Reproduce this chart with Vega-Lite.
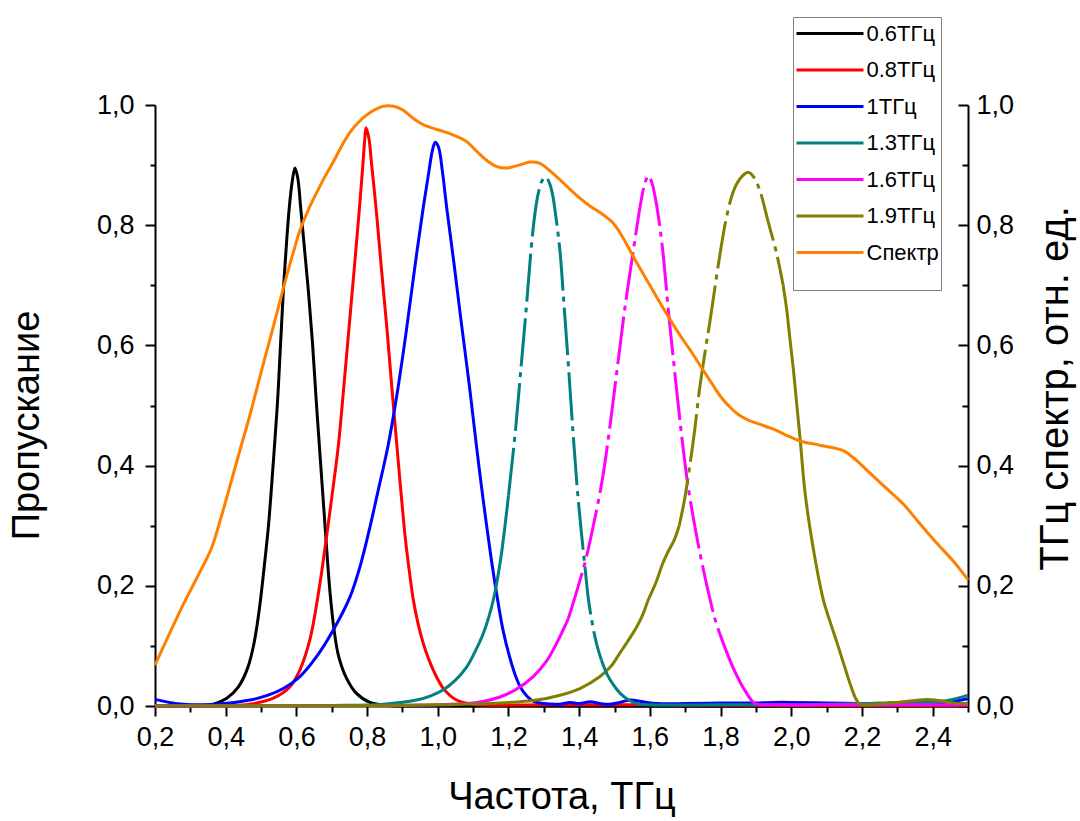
{
  "$schema": "https://vega.github.io/schema/vega-lite/v6.json",
  "width": 813,
  "height": 601,
  "autosize": "none",
  "padding": {"left": 155, "top": 105, "right": 112, "bottom": 115},
  "background": "white",
  "config": {
    "view": {"stroke": null},
    "font": "Liberation Sans",
    "axis": {
      "grid": false,
      "domainColor": "black",
      "domainWidth": 2,
      "tickColor": "black",
      "tickWidth": 2,
      "labelColor": "black",
      "labelFont": "Liberation Sans",
      "labelFontSize": 27,
      "labelOverlap": false,
      "labelFlush": false,
      "titleColor": "black",
      "titleFont": "Liberation Sans",
      "titleFontSize": 38,
      "titleFontWeight": "normal"
    },
    "line": {"strokeWidth": 3, "interpolate": "catmull-rom", "clip": true}
  },
  "datasets": {
    "transmission": [
      {"series": "0.6ТГц", "freq": 0.2, "value": 0},
      {"series": "0.6ТГц", "freq": 0.3, "value": 0},
      {"series": "0.6ТГц", "freq": 0.365, "value": 0.003},
      {"series": "0.6ТГц", "freq": 0.403, "value": 0.013},
      {"series": "0.6ТГц", "freq": 0.436, "value": 0.032},
      {"series": "0.6ТГц", "freq": 0.462, "value": 0.063},
      {"series": "0.6ТГц", "freq": 0.48, "value": 0.104},
      {"series": "0.6ТГц", "freq": 0.496, "value": 0.165},
      {"series": "0.6ТГц", "freq": 0.509, "value": 0.232},
      {"series": "0.6ТГц", "freq": 0.521, "value": 0.3},
      {"series": "0.6ТГц", "freq": 0.534, "value": 0.4},
      {"series": "0.6ТГц", "freq": 0.546, "value": 0.5},
      {"series": "0.6ТГц", "freq": 0.555, "value": 0.6},
      {"series": "0.6ТГц", "freq": 0.563, "value": 0.69},
      {"series": "0.6ТГц", "freq": 0.572, "value": 0.77},
      {"series": "0.6ТГц", "freq": 0.58, "value": 0.83},
      {"series": "0.6ТГц", "freq": 0.588, "value": 0.872},
      {"series": "0.6ТГц", "freq": 0.596, "value": 0.895},
      {"series": "0.6ТГц", "freq": 0.604, "value": 0.878},
      {"series": "0.6ТГц", "freq": 0.612, "value": 0.83},
      {"series": "0.6ТГц", "freq": 0.623, "value": 0.76},
      {"series": "0.6ТГц", "freq": 0.634, "value": 0.69},
      {"series": "0.6ТГц", "freq": 0.646, "value": 0.6},
      {"series": "0.6ТГц", "freq": 0.657, "value": 0.5},
      {"series": "0.6ТГц", "freq": 0.669, "value": 0.4},
      {"series": "0.6ТГц", "freq": 0.681, "value": 0.3},
      {"series": "0.6ТГц", "freq": 0.695, "value": 0.19},
      {"series": "0.6ТГц", "freq": 0.707, "value": 0.125},
      {"series": "0.6ТГц", "freq": 0.719, "value": 0.084},
      {"series": "0.6ТГц", "freq": 0.742, "value": 0.046},
      {"series": "0.6ТГц", "freq": 0.77, "value": 0.021},
      {"series": "0.6ТГц", "freq": 0.808, "value": 0.006},
      {"series": "0.6ТГц", "freq": 0.86, "value": 0.001},
      {"series": "0.6ТГц", "freq": 1.0, "value": 0},
      {"series": "0.6ТГц", "freq": 2.5, "value": 0},

      {"series": "0.8ТГц", "freq": 0.2, "value": 0},
      {"series": "0.8ТГц", "freq": 0.4, "value": 0.001},
      {"series": "0.8ТГц", "freq": 0.469, "value": 0.003},
      {"series": "0.8ТГц", "freq": 0.535, "value": 0.013},
      {"series": "0.8ТГц", "freq": 0.582, "value": 0.032},
      {"series": "0.8ТГц", "freq": 0.61, "value": 0.06},
      {"series": "0.8ТГц", "freq": 0.638, "value": 0.11},
      {"series": "0.8ТГц", "freq": 0.658, "value": 0.172},
      {"series": "0.8ТГц", "freq": 0.672, "value": 0.225},
      {"series": "0.8ТГц", "freq": 0.686, "value": 0.285},
      {"series": "0.8ТГц", "freq": 0.703, "value": 0.36},
      {"series": "0.8ТГц", "freq": 0.719, "value": 0.435},
      {"series": "0.8ТГц", "freq": 0.734, "value": 0.53},
      {"series": "0.8ТГц", "freq": 0.749, "value": 0.63},
      {"series": "0.8ТГц", "freq": 0.764, "value": 0.73},
      {"series": "0.8ТГц", "freq": 0.778, "value": 0.826},
      {"series": "0.8ТГц", "freq": 0.788, "value": 0.9},
      {"series": "0.8ТГц", "freq": 0.793, "value": 0.94},
      {"series": "0.8ТГц", "freq": 0.797, "value": 0.962},
      {"series": "0.8ТГц", "freq": 0.805, "value": 0.945},
      {"series": "0.8ТГц", "freq": 0.813, "value": 0.9},
      {"series": "0.8ТГц", "freq": 0.82, "value": 0.86},
      {"series": "0.8ТГц", "freq": 0.827, "value": 0.818},
      {"series": "0.8ТГц", "freq": 0.841, "value": 0.725},
      {"series": "0.8ТГц", "freq": 0.856, "value": 0.629},
      {"series": "0.8ТГц", "freq": 0.87, "value": 0.53},
      {"series": "0.8ТГц", "freq": 0.884, "value": 0.435},
      {"series": "0.8ТГц", "freq": 0.896, "value": 0.355},
      {"series": "0.8ТГц", "freq": 0.908, "value": 0.28},
      {"series": "0.8ТГц", "freq": 0.92, "value": 0.222},
      {"series": "0.8ТГц", "freq": 0.931, "value": 0.176},
      {"series": "0.8ТГц", "freq": 0.945, "value": 0.135},
      {"series": "0.8ТГц", "freq": 0.959, "value": 0.104},
      {"series": "0.8ТГц", "freq": 0.973, "value": 0.08},
      {"series": "0.8ТГц", "freq": 0.987, "value": 0.06},
      {"series": "0.8ТГц", "freq": 1.016, "value": 0.029},
      {"series": "0.8ТГц", "freq": 1.053, "value": 0.01},
      {"series": "0.8ТГц", "freq": 1.1, "value": 0.003},
      {"series": "0.8ТГц", "freq": 1.3, "value": 0.002},
      {"series": "0.8ТГц", "freq": 1.6, "value": 0.002},
      {"series": "0.8ТГц", "freq": 2.0, "value": 0.001},
      {"series": "0.8ТГц", "freq": 2.5, "value": 0.001},

      {"series": "1ТГц", "freq": 0.2, "value": 0.011},
      {"series": "1ТГц", "freq": 0.24, "value": 0.006},
      {"series": "1ТГц", "freq": 0.28, "value": 0.003},
      {"series": "1ТГц", "freq": 0.375, "value": 0.003},
      {"series": "1ТГц", "freq": 0.469, "value": 0.01},
      {"series": "1ТГц", "freq": 0.52, "value": 0.018},
      {"series": "1ТГц", "freq": 0.563, "value": 0.029},
      {"series": "1ТГц", "freq": 0.61, "value": 0.049},
      {"series": "1ТГц", "freq": 0.657, "value": 0.082},
      {"series": "1ТГц", "freq": 0.704, "value": 0.126},
      {"series": "1ТГц", "freq": 0.752, "value": 0.182},
      {"series": "1ТГц", "freq": 0.78, "value": 0.232},
      {"series": "1ТГц", "freq": 0.805, "value": 0.29},
      {"series": "1ТГц", "freq": 0.83, "value": 0.355},
      {"series": "1ТГц", "freq": 0.86, "value": 0.435},
      {"series": "1ТГц", "freq": 0.885, "value": 0.52},
      {"series": "1ТГц", "freq": 0.91, "value": 0.62},
      {"series": "1ТГц", "freq": 0.935, "value": 0.73},
      {"series": "1ТГц", "freq": 0.959, "value": 0.83},
      {"series": "1ТГц", "freq": 0.975, "value": 0.89},
      {"series": "1ТГц", "freq": 0.985, "value": 0.925},
      {"series": "1ТГц", "freq": 0.993, "value": 0.938},
      {"series": "1ТГц", "freq": 1.002, "value": 0.93},
      {"series": "1ТГц", "freq": 1.013, "value": 0.89},
      {"series": "1ТГц", "freq": 1.025, "value": 0.83},
      {"series": "1ТГц", "freq": 1.045, "value": 0.74},
      {"series": "1ТГц", "freq": 1.065, "value": 0.645},
      {"series": "1ТГц", "freq": 1.09, "value": 0.53},
      {"series": "1ТГц", "freq": 1.11, "value": 0.43},
      {"series": "1ТГц", "freq": 1.128, "value": 0.345},
      {"series": "1ТГц", "freq": 1.15, "value": 0.25},
      {"series": "1ТГц", "freq": 1.167, "value": 0.185},
      {"series": "1ТГц", "freq": 1.185, "value": 0.125},
      {"series": "1ТГц", "freq": 1.204, "value": 0.08},
      {"series": "1ТГц", "freq": 1.22, "value": 0.05},
      {"series": "1ТГц", "freq": 1.233, "value": 0.032},
      {"series": "1ТГц", "freq": 1.25, "value": 0.018},
      {"series": "1ТГц", "freq": 1.27, "value": 0.008},
      {"series": "1ТГц", "freq": 1.3, "value": 0.004},
      {"series": "1ТГц", "freq": 1.346, "value": 0.003},
      {"series": "1ТГц", "freq": 1.374, "value": 0.006},
      {"series": "1ТГц", "freq": 1.4, "value": 0.004},
      {"series": "1ТГц", "freq": 1.431, "value": 0.007},
      {"series": "1ТГц", "freq": 1.46, "value": 0.004},
      {"series": "1ТГц", "freq": 1.487, "value": 0.003},
      {"series": "1ТГц", "freq": 1.515, "value": 0.006},
      {"series": "1ТГц", "freq": 1.544, "value": 0.01},
      {"series": "1ТГц", "freq": 1.58, "value": 0.007},
      {"series": "1ТГц", "freq": 1.62, "value": 0.004},
      {"series": "1ТГц", "freq": 1.7, "value": 0.004},
      {"series": "1ТГц", "freq": 1.8, "value": 0.005},
      {"series": "1ТГц", "freq": 1.9, "value": 0.005},
      {"series": "1ТГц", "freq": 1.95, "value": 0.006},
      {"series": "1ТГц", "freq": 2.0, "value": 0.006},
      {"series": "1ТГц", "freq": 2.1, "value": 0.005},
      {"series": "1ТГц", "freq": 2.2, "value": 0.004},
      {"series": "1ТГц", "freq": 2.3, "value": 0.004},
      {"series": "1ТГц", "freq": 2.4, "value": 0.005},
      {"series": "1ТГц", "freq": 2.45, "value": 0.007},
      {"series": "1ТГц", "freq": 2.5, "value": 0.012},

      {"series": "1.3ТГц", "freq": 0.2, "value": 0},
      {"series": "1.3ТГц", "freq": 0.7, "value": 0.001},
      {"series": "1.3ТГц", "freq": 0.846, "value": 0.003},
      {"series": "1.3ТГц", "freq": 0.94, "value": 0.01},
      {"series": "1.3ТГц", "freq": 0.98, "value": 0.017},
      {"series": "1.3ТГц", "freq": 1.016, "value": 0.027},
      {"series": "1.3ТГц", "freq": 1.05, "value": 0.043},
      {"series": "1.3ТГц", "freq": 1.082, "value": 0.065},
      {"series": "1.3ТГц", "freq": 1.105, "value": 0.09},
      {"series": "1.3ТГц", "freq": 1.129, "value": 0.121},
      {"series": "1.3ТГц", "freq": 1.157, "value": 0.176},
      {"series": "1.3ТГц", "freq": 1.178, "value": 0.245},
      {"series": "1.3ТГц", "freq": 1.2, "value": 0.35},
      {"series": "1.3ТГц", "freq": 1.22, "value": 0.46},
      {"series": "1.3ТГц", "freq": 1.235, "value": 0.56},
      {"series": "1.3ТГц", "freq": 1.25, "value": 0.66},
      {"series": "1.3ТГц", "freq": 1.264, "value": 0.76},
      {"series": "1.3ТГц", "freq": 1.275, "value": 0.82},
      {"series": "1.3ТГц", "freq": 1.285, "value": 0.855},
      {"series": "1.3ТГц", "freq": 1.296, "value": 0.875},
      {"series": "1.3ТГц", "freq": 1.306, "value": 0.88},
      {"series": "1.3ТГц", "freq": 1.316, "value": 0.87},
      {"series": "1.3ТГц", "freq": 1.325, "value": 0.85},
      {"series": "1.3ТГц", "freq": 1.335, "value": 0.81},
      {"series": "1.3ТГц", "freq": 1.346, "value": 0.755},
      {"series": "1.3ТГц", "freq": 1.358, "value": 0.66},
      {"series": "1.3ТГц", "freq": 1.37, "value": 0.563},
      {"series": "1.3ТГц", "freq": 1.382, "value": 0.46},
      {"series": "1.3ТГц", "freq": 1.394, "value": 0.366},
      {"series": "1.3ТГц", "freq": 1.406, "value": 0.29},
      {"series": "1.3ТГц", "freq": 1.417, "value": 0.228},
      {"series": "1.3ТГц", "freq": 1.426, "value": 0.178},
      {"series": "1.3ТГц", "freq": 1.437, "value": 0.138},
      {"series": "1.3ТГц", "freq": 1.449, "value": 0.104},
      {"series": "1.3ТГц", "freq": 1.463, "value": 0.076},
      {"series": "1.3ТГц", "freq": 1.478, "value": 0.054},
      {"series": "1.3ТГц", "freq": 1.497, "value": 0.035},
      {"series": "1.3ТГц", "freq": 1.516, "value": 0.021},
      {"series": "1.3ТГц", "freq": 1.54, "value": 0.01},
      {"series": "1.3ТГц", "freq": 1.563, "value": 0.004},
      {"series": "1.3ТГц", "freq": 1.6, "value": 0.002},
      {"series": "1.3ТГц", "freq": 1.8, "value": 0.002},
      {"series": "1.3ТГц", "freq": 2.0, "value": 0.002},
      {"series": "1.3ТГц", "freq": 2.2, "value": 0.004},
      {"series": "1.3ТГц", "freq": 2.3, "value": 0.006},
      {"series": "1.3ТГц", "freq": 2.4, "value": 0.006},
      {"series": "1.3ТГц", "freq": 2.45, "value": 0.01},
      {"series": "1.3ТГц", "freq": 2.5, "value": 0.018},

      {"series": "1.6ТГц", "freq": 0.2, "value": 0},
      {"series": "1.6ТГц", "freq": 0.9, "value": 0.001},
      {"series": "1.6ТГц", "freq": 1.0, "value": 0.002},
      {"series": "1.6ТГц", "freq": 1.082, "value": 0.004},
      {"series": "1.6ТГц", "freq": 1.13, "value": 0.008},
      {"series": "1.6ТГц", "freq": 1.176, "value": 0.015},
      {"series": "1.6ТГц", "freq": 1.22, "value": 0.027},
      {"series": "1.6ТГц", "freq": 1.27, "value": 0.049},
      {"series": "1.6ТГц", "freq": 1.308, "value": 0.075},
      {"series": "1.6ТГц", "freq": 1.336, "value": 0.104},
      {"series": "1.6ТГц", "freq": 1.369, "value": 0.145},
      {"series": "1.6ТГц", "freq": 1.39, "value": 0.185},
      {"series": "1.6ТГц", "freq": 1.417, "value": 0.24},
      {"series": "1.6ТГц", "freq": 1.44, "value": 0.3},
      {"series": "1.6ТГц", "freq": 1.465, "value": 0.375},
      {"series": "1.6ТГц", "freq": 1.487, "value": 0.465},
      {"series": "1.6ТГц", "freq": 1.508, "value": 0.563},
      {"series": "1.6ТГц", "freq": 1.53, "value": 0.665},
      {"series": "1.6ТГц", "freq": 1.555, "value": 0.765},
      {"series": "1.6ТГц", "freq": 1.575, "value": 0.84},
      {"series": "1.6ТГц", "freq": 1.587, "value": 0.872},
      {"series": "1.6ТГц", "freq": 1.596, "value": 0.882},
      {"series": "1.6ТГц", "freq": 1.606, "value": 0.87},
      {"series": "1.6ТГц", "freq": 1.62, "value": 0.83},
      {"series": "1.6ТГц", "freq": 1.636, "value": 0.76},
      {"series": "1.6ТГц", "freq": 1.652, "value": 0.66},
      {"series": "1.6ТГц", "freq": 1.669, "value": 0.563},
      {"series": "1.6ТГц", "freq": 1.688, "value": 0.46},
      {"series": "1.6ТГц", "freq": 1.707, "value": 0.37},
      {"series": "1.6ТГц", "freq": 1.73, "value": 0.29},
      {"series": "1.6ТГц", "freq": 1.752, "value": 0.225},
      {"series": "1.6ТГц", "freq": 1.77, "value": 0.178},
      {"series": "1.6ТГц", "freq": 1.784, "value": 0.145},
      {"series": "1.6ТГц", "freq": 1.798, "value": 0.12},
      {"series": "1.6ТГц", "freq": 1.817, "value": 0.09},
      {"series": "1.6ТГц", "freq": 1.836, "value": 0.063},
      {"series": "1.6ТГц", "freq": 1.855, "value": 0.04},
      {"series": "1.6ТГц", "freq": 1.874, "value": 0.021},
      {"series": "1.6ТГц", "freq": 1.89, "value": 0.008},
      {"series": "1.6ТГц", "freq": 1.902, "value": 0.003},
      {"series": "1.6ТГц", "freq": 1.95, "value": 0.002},
      {"series": "1.6ТГц", "freq": 2.2, "value": 0.002},
      {"series": "1.6ТГц", "freq": 2.5, "value": 0.002},

      {"series": "1.9ТГц", "freq": 0.2, "value": 0},
      {"series": "1.9ТГц", "freq": 0.8, "value": 0.001},
      {"series": "1.9ТГц", "freq": 1.0, "value": 0.002},
      {"series": "1.9ТГц", "freq": 1.147, "value": 0.004},
      {"series": "1.9ТГц", "freq": 1.28, "value": 0.01},
      {"series": "1.9ТГц", "freq": 1.346, "value": 0.018},
      {"series": "1.9ТГц", "freq": 1.402, "value": 0.029},
      {"series": "1.9ТГц", "freq": 1.459, "value": 0.049},
      {"series": "1.9ТГц", "freq": 1.49, "value": 0.066},
      {"series": "1.9ТГц", "freq": 1.515, "value": 0.088},
      {"series": "1.9ТГц", "freq": 1.54, "value": 0.11},
      {"series": "1.9ТГц", "freq": 1.563, "value": 0.132},
      {"series": "1.9ТГц", "freq": 1.58, "value": 0.152},
      {"series": "1.9ТГц", "freq": 1.595, "value": 0.176},
      {"series": "1.9ТГц", "freq": 1.617, "value": 0.205},
      {"series": "1.9ТГц", "freq": 1.635, "value": 0.235},
      {"series": "1.9ТГц", "freq": 1.65, "value": 0.255},
      {"series": "1.9ТГц", "freq": 1.668, "value": 0.275},
      {"series": "1.9ТГц", "freq": 1.683, "value": 0.3},
      {"series": "1.9ТГц", "freq": 1.697, "value": 0.34},
      {"series": "1.9ТГц", "freq": 1.713, "value": 0.4},
      {"series": "1.9ТГц", "freq": 1.727, "value": 0.46},
      {"series": "1.9ТГц", "freq": 1.74, "value": 0.525},
      {"series": "1.9ТГц", "freq": 1.755, "value": 0.585},
      {"series": "1.9ТГц", "freq": 1.77, "value": 0.64},
      {"series": "1.9ТГц", "freq": 1.785, "value": 0.7},
      {"series": "1.9ТГц", "freq": 1.8, "value": 0.758},
      {"series": "1.9ТГц", "freq": 1.815, "value": 0.808},
      {"series": "1.9ТГц", "freq": 1.83, "value": 0.845},
      {"series": "1.9ТГц", "freq": 1.845, "value": 0.868},
      {"series": "1.9ТГц", "freq": 1.862, "value": 0.882},
      {"series": "1.9ТГц", "freq": 1.878, "value": 0.888},
      {"series": "1.9ТГц", "freq": 1.894, "value": 0.88},
      {"series": "1.9ТГц", "freq": 1.911, "value": 0.858},
      {"series": "1.9ТГц", "freq": 1.935, "value": 0.805},
      {"series": "1.9ТГц", "freq": 1.959, "value": 0.752},
      {"series": "1.9ТГц", "freq": 1.977, "value": 0.7},
      {"series": "1.9ТГц", "freq": 1.987, "value": 0.66},
      {"series": "1.9ТГц", "freq": 1.996, "value": 0.612},
      {"series": "1.9ТГц", "freq": 2.006, "value": 0.56},
      {"series": "1.9ТГц", "freq": 2.015, "value": 0.505},
      {"series": "1.9ТГц", "freq": 2.025, "value": 0.445},
      {"series": "1.9ТГц", "freq": 2.039, "value": 0.355},
      {"series": "1.9ТГц", "freq": 2.06, "value": 0.27},
      {"series": "1.9ТГц", "freq": 2.091, "value": 0.176},
      {"series": "1.9ТГц", "freq": 2.11, "value": 0.14},
      {"series": "1.9ТГц", "freq": 2.128, "value": 0.108},
      {"series": "1.9ТГц", "freq": 2.143, "value": 0.08},
      {"series": "1.9ТГц", "freq": 2.157, "value": 0.054},
      {"series": "1.9ТГц", "freq": 2.17, "value": 0.031},
      {"series": "1.9ТГц", "freq": 2.182, "value": 0.013},
      {"series": "1.9ТГц", "freq": 2.194, "value": 0.003},
      {"series": "1.9ТГц", "freq": 2.22, "value": 0.002},
      {"series": "1.9ТГц", "freq": 2.26, "value": 0.004},
      {"series": "1.9ТГц", "freq": 2.3, "value": 0.006},
      {"series": "1.9ТГц", "freq": 2.35, "value": 0.009},
      {"series": "1.9ТГц", "freq": 2.383, "value": 0.011},
      {"series": "1.9ТГц", "freq": 2.42, "value": 0.009},
      {"series": "1.9ТГц", "freq": 2.46, "value": 0.005},
      {"series": "1.9ТГц", "freq": 2.5, "value": 0.004}
    ],
    "spectrum": [
      {"series": "Спектр", "freq": 0.2, "value": 0.068},
      {"series": "Спектр", "freq": 0.24, "value": 0.119},
      {"series": "Спектр", "freq": 0.28, "value": 0.169},
      {"series": "Спектр", "freq": 0.32, "value": 0.215},
      {"series": "Спектр", "freq": 0.36, "value": 0.263},
      {"series": "Спектр", "freq": 0.387, "value": 0.314},
      {"series": "Спектр", "freq": 0.412, "value": 0.366},
      {"series": "Спектр", "freq": 0.44, "value": 0.425},
      {"series": "Спектр", "freq": 0.469, "value": 0.485},
      {"series": "Спектр", "freq": 0.492, "value": 0.537},
      {"series": "Спектр", "freq": 0.516, "value": 0.59},
      {"series": "Спектр", "freq": 0.54, "value": 0.643},
      {"series": "Спектр", "freq": 0.563, "value": 0.695},
      {"series": "Спектр", "freq": 0.587, "value": 0.746},
      {"series": "Спектр", "freq": 0.61, "value": 0.791},
      {"series": "Спектр", "freq": 0.634, "value": 0.826},
      {"series": "Спектр", "freq": 0.658, "value": 0.855},
      {"series": "Спектр", "freq": 0.68, "value": 0.88},
      {"series": "Спектр", "freq": 0.705, "value": 0.906},
      {"series": "Спектр", "freq": 0.73, "value": 0.934},
      {"series": "Спектр", "freq": 0.752, "value": 0.955},
      {"series": "Спектр", "freq": 0.775, "value": 0.971},
      {"series": "Спектр", "freq": 0.8, "value": 0.984},
      {"series": "Спектр", "freq": 0.825, "value": 0.993},
      {"series": "Спектр", "freq": 0.846, "value": 0.998},
      {"series": "Спектр", "freq": 0.875, "value": 0.998},
      {"series": "Спектр", "freq": 0.9, "value": 0.992},
      {"series": "Спектр", "freq": 0.93, "value": 0.978},
      {"series": "Спектр", "freq": 0.96, "value": 0.967},
      {"series": "Спектр", "freq": 0.988, "value": 0.961},
      {"series": "Спектр", "freq": 1.015, "value": 0.956},
      {"series": "Спектр", "freq": 1.044, "value": 0.95},
      {"series": "Спектр", "freq": 1.082, "value": 0.939},
      {"series": "Спектр", "freq": 1.11, "value": 0.923},
      {"series": "Спектр", "freq": 1.138, "value": 0.908},
      {"series": "Спектр", "freq": 1.165, "value": 0.898},
      {"series": "Спектр", "freq": 1.195, "value": 0.895},
      {"series": "Спектр", "freq": 1.23, "value": 0.9},
      {"series": "Спектр", "freq": 1.261, "value": 0.905},
      {"series": "Спектр", "freq": 1.289, "value": 0.903},
      {"series": "Спектр", "freq": 1.31, "value": 0.894},
      {"series": "Спектр", "freq": 1.336, "value": 0.881},
      {"series": "Спектр", "freq": 1.37, "value": 0.862},
      {"series": "Спектр", "freq": 1.402, "value": 0.845},
      {"series": "Спектр", "freq": 1.43, "value": 0.832},
      {"series": "Спектр", "freq": 1.459, "value": 0.821},
      {"series": "Спектр", "freq": 1.497, "value": 0.803},
      {"series": "Спектр", "freq": 1.525, "value": 0.778},
      {"series": "Спектр", "freq": 1.553, "value": 0.748},
      {"series": "Спектр", "freq": 1.6, "value": 0.7},
      {"series": "Спектр", "freq": 1.647, "value": 0.653},
      {"series": "Спектр", "freq": 1.685, "value": 0.617},
      {"series": "Спектр", "freq": 1.712, "value": 0.594},
      {"series": "Спектр", "freq": 1.742, "value": 0.567},
      {"series": "Спектр", "freq": 1.775, "value": 0.537},
      {"series": "Спектр", "freq": 1.8, "value": 0.515},
      {"series": "Спектр", "freq": 1.827, "value": 0.497},
      {"series": "Спектр", "freq": 1.85, "value": 0.485},
      {"series": "Спектр", "freq": 1.874, "value": 0.477},
      {"series": "Спектр", "freq": 1.9, "value": 0.471},
      {"series": "Спектр", "freq": 1.948, "value": 0.461},
      {"series": "Спектр", "freq": 1.988, "value": 0.45},
      {"series": "Спектр", "freq": 2.025, "value": 0.441},
      {"series": "Спектр", "freq": 2.081, "value": 0.434},
      {"series": "Спектр", "freq": 2.115, "value": 0.43},
      {"series": "Спектр", "freq": 2.147, "value": 0.425},
      {"series": "Спектр", "freq": 2.18, "value": 0.411},
      {"series": "Спектр", "freq": 2.213, "value": 0.393},
      {"series": "Спектр", "freq": 2.26, "value": 0.367},
      {"series": "Спектр", "freq": 2.317, "value": 0.336},
      {"series": "Спектр", "freq": 2.36, "value": 0.306},
      {"series": "Спектр", "freq": 2.41, "value": 0.272},
      {"series": "Спектр", "freq": 2.46, "value": 0.24},
      {"series": "Спектр", "freq": 2.5, "value": 0.21}
    ]
  },
  "encoding": {
    "x": {
      "field": "freq",
      "type": "quantitative",
      "scale": {"domain": [0.2, 2.5], "nice": false, "zero": false},
      "axis": {
        "title": "Частота, ТГц",
        "values": [0.2, 0.3, 0.4, 0.5, 0.6, 0.7, 0.8, 0.9, 1.0, 1.1, 1.2, 1.3, 1.4, 1.5, 1.6, 1.7, 1.8, 1.9, 2.0, 2.1, 2.2, 2.3, 2.4, 2.5],
        "labelExpr": "round(datum.value * 10) % 2 == 0 ? replace(format(datum.value, '.1f'), '.', ',') : ''",
        "tickSize": {"condition": {"test": "round(datum.value * 10) % 2 == 0", "value": 10}, "value": 6},
        "labelPadding": 8,
        "titlePadding": 28
      }
    },
    "color": {
      "field": "series",
      "type": "nominal",
      "scale": {
        "domain": ["0.6ТГц", "0.8ТГц", "1ТГц", "1.3ТГц", "1.6ТГц", "1.9ТГц", "Спектр"],
        "range": ["#000000", "#ff0000", "#0000ff", "#008080", "#ff00ff", "#808000", "#ff8000"]
      },
      "legend": {
        "title": " ",
        "titleOrient": "bottom",
        "titleFontSize": 18,
        "titlePadding": 6,
        "orient": "none",
        "legendX": 638,
        "legendY": -88,
        "symbolType": "M-2.577,0H2.577",
        "symbolSize": 676,
        "symbolStrokeWidth": 3,
        "symbolOffset": 20.5,
        "labelOffset": 22,
        "labelFont": "Liberation Sans",
        "labelFontSize": 22,
        "labelColor": "black",
        "rowPadding": 10.5,
        "padding": 2,
        "strokeColor": "#808080",
        "fillColor": "white"
      }
    }
  },
  "layer": [
    {
      "encoding": {
        "y": {
          "field": "value",
          "type": "quantitative",
          "scale": {"domain": [0, 1], "nice": false},
          "axis": {
            "title": "Пропускание",
            "titleY": 320,
            "values": [0, 0.1, 0.2, 0.3, 0.4, 0.5, 0.6, 0.7, 0.8, 0.9, 1.0],
            "labelExpr": "round(datum.value * 10) % 2 == 0 ? replace(format(datum.value, '.1f'), '.', ',') : ''",
            "tickSize": {"condition": {"test": "round(datum.value * 10) % 2 == 0", "value": 10}, "value": 5},
            "labelPadding": 11,
            "titlePadding": 50
          }
        }
      },
      "layer": [
        {
          "data": {"name": "transmission"},
          "transform": [
            {"filter": "datum.series == '1.3ТГц' ? datum.freq <= 1.2 : datum.series == '1.6ТГц' ? datum.freq <= 1.369 : datum.series == '1.9ТГц' ? datum.freq <= 1.683 : true"}
          ],
          "mark": {"type": "line"}
        },
        {
          "data": {"name": "transmission"},
          "transform": [
            {"filter": "datum.series == '1.3ТГц' ? (datum.freq >= 1.2 && datum.freq <= 1.463) : datum.series == '1.6ТГц' ? (datum.freq >= 1.369 && datum.freq <= 1.798) : datum.series == '1.9ТГц' ? (datum.freq >= 1.683 && datum.freq <= 1.977) : false"}
          ],
          "mark": {"type": "line", "strokeDash": [48, 6, 5, 6], "strokeCap": "butt"}
        },
        {
          "data": {"name": "transmission"},
          "transform": [
            {"filter": "datum.series == '1.3ТГц' ? datum.freq >= 1.463 : datum.series == '1.6ТГц' ? datum.freq >= 1.798 : datum.series == '1.9ТГц' ? datum.freq >= 1.977 : false"}
          ],
          "mark": {"type": "line"}
        }
      ]
    },
    {
      "data": {"name": "spectrum"},
      "mark": {"type": "line"},
      "encoding": {
        "y": {
          "field": "value",
          "type": "quantitative",
          "scale": {"domain": [0, 1], "nice": false},
          "axis": {
            "orient": "right",
            "title": "ТГц спектр, отн. ед.",
            "titleAngle": 270,
            "titleFontSize": 40,
            "titleY": 283,
            "values": [0, 0.1, 0.2, 0.3, 0.4, 0.5, 0.6, 0.7, 0.8, 0.9, 1.0],
            "labelExpr": "round(datum.value * 10) % 2 == 0 ? replace(format(datum.value, '.1f'), '.', ',') : ''",
            "tickSize": {"condition": {"test": "round(datum.value * 10) % 2 == 0", "value": -10}, "value": -6},
            "labelPadding": 18,
            "titlePadding": 62
          }
        }
      }
    }
  ],
  "resolve": {"scale": {"y": "independent"}}
}
